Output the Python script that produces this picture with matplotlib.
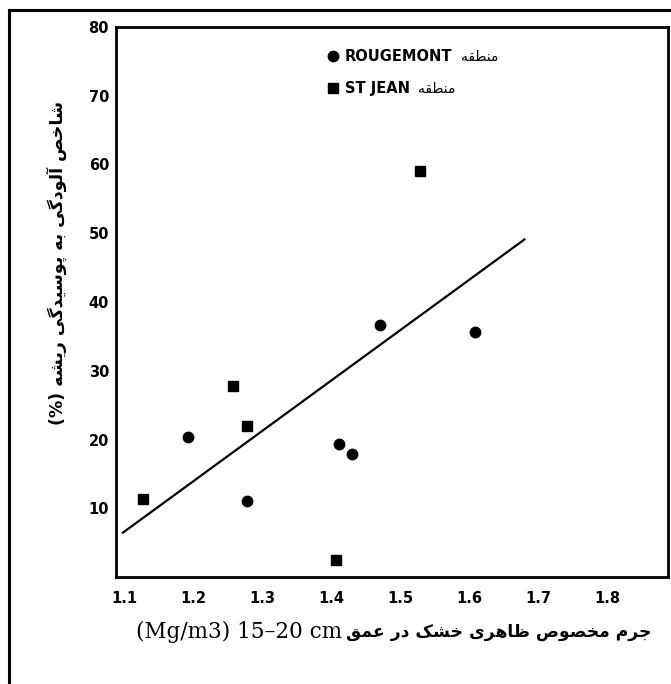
import matplotlib
matplotlib.use('Agg')
import matplotlib.pyplot as plt
from matplotlib.lines import Line2D

# data
rouge_x = [1.193, 1.278, 1.411, 1.430, 1.471, 1.609]
rouge_y = [20.4, 11.0, 19.3, 17.9, 36.7, 35.7]
jean_x = [1.127, 1.257, 1.278, 1.407, 1.529]
jean_y = [11.3, 27.8, 22.0, 2.5, 59.1]
fit_x = [1.098, 1.680]
fit_y = [6.45, 49.1]
xticks = [1.1, 1.2, 1.3, 1.4, 1.5, 1.6, 1.7, 1.8]
yticks = [10, 20, 30, 40, 50, 60, 70, 80]
series_names = ['ROUGEMONT', 'ST JEAN']
region_word = 'منطقه'
ylabel_fa = 'شاخص آلودگی به پوسیدگی ریشه (%)'
xlabel_fa = 'جرم مخصوص ظاهری خشک در عمق'
xlabel_en = '(Mg/m3) 15\u201320 cm'

# matplotlib has no arabic shaping, so pick presentation forms by hand
# (isolated, final, initial, medial)
FORMS = {
    'ا': (0xFE8D, 0xFE8E, None, None),
    'آ': (0xFE81, 0xFE82, None, None),
    'ب': (0xFE8F, 0xFE90, 0xFE91, 0xFE92),
    'پ': (0xFB56, 0xFB57, 0xFB58, 0xFB59),
    'ج': (0xFE9D, 0xFE9E, 0xFE9F, 0xFEA0),
    'خ': (0xFEA5, 0xFEA6, 0xFEA7, 0xFEA8),
    'د': (0xFEA9, 0xFEAA, None, None),
    'ر': (0xFEAD, 0xFEAE, None, None),
    'س': (0xFEB1, 0xFEB2, 0xFEB3, 0xFEB4),
    'ش': (0xFEB5, 0xFEB6, 0xFEB7, 0xFEB8),
    'ص': (0xFEB9, 0xFEBA, 0xFEBB, 0xFEBC),
    'ط': (0xFEC1, 0xFEC2, 0xFEC3, 0xFEC4),
    'ظ': (0xFEC5, 0xFEC6, 0xFEC7, 0xFEC8),
    'ع': (0xFEC9, 0xFECA, 0xFECB, 0xFECC),
    'ق': (0xFED5, 0xFED6, 0xFED7, 0xFED8),
    'ک': (0xFB8E, 0xFB8F, 0xFB90, 0xFB91),
    'گ': (0xFB92, 0xFB93, 0xFB94, 0xFB95),
    'ل': (0xFEDD, 0xFEDE, 0xFEDF, 0xFEE0),
    'م': (0xFEE1, 0xFEE2, 0xFEE3, 0xFEE4),
    'ن': (0xFEE5, 0xFEE6, 0xFEE7, 0xFEE8),
    'ه': (0xFEE9, 0xFEEA, 0xFEEB, 0xFEEC),
    'و': (0xFEED, 0xFEEE, None, None),
    'ی': (0xFBFC, 0xFBFD, 0xFBFE, 0xFBFF),
}


def shape_fa(s):
    out = []
    for i, c in enumerate(s):
        if c not in FORMS:
            out.append(c)
            continue
        prev = s[i - 1] if i > 0 else ''
        nxt = s[i + 1] if i + 1 < len(s) else ''
        jp = prev in FORMS and FORMS[prev][2] is not None
        jn = FORMS[c][2] is not None and nxt in FORMS
        f = FORMS[c]
        if jp and jn:
            code = f[3]
        elif jp:
            code = f[1]
        elif jn:
            code = f[2]
        else:
            code = f[0]
        out.append(chr(code))
    vis = ''.join(reversed(out))
    return vis.translate(str.maketrans('()', ')('))


fig = plt.figure(figsize=(6.71, 6.84), dpi=100)
ax = fig.add_axes([116 / 671, 107 / 684, 552 / 671, 550 / 684])

ax.plot(fit_x, fit_y, color='black', lw=1.6)
ax.plot(rouge_x, rouge_y, 'o', color='black', ms=7.5, label=series_names[0])
ax.plot(jean_x, jean_y, 's', color='black', ms=7, label=series_names[1])

ax.set_xlim(1.088, 1.888)
ax.set_ylim(0, 80)
ax.set_xticks(xticks)
ax.set_xticklabels([('%.1f' % v) for v in xticks])
ax.set_yticks(yticks)
ax.tick_params(length=0, labelsize=10.5)
ax.tick_params(axis='x', pad=10)
ax.tick_params(axis='y', pad=5)
for lab in ax.get_xticklabels() + ax.get_yticklabels():
    lab.set_fontweight('bold')
for sp in ax.spines.values():
    sp.set_linewidth(2)

leg = ax.legend(loc='upper left', bbox_to_anchor=(0.375, 0.97), frameon=False,
                prop={'weight': 'bold', 'size': 10.5}, handlelength=0.6,
                handletextpad=0.5, labelspacing=1.15, borderaxespad=0)
for t in leg.get_texts():
    ax.annotate(shape_fa(region_word), xy=(1, 0), xycoords=t, xytext=(6, 0),
                textcoords='offset points', va='bottom', ha='left',
                fontsize=10, zorder=8)

fig.text(57 / 671, 1 - 263 / 684, shape_fa(ylabel_fa), rotation=90,
         ha='center', va='center', fontsize=12.5, fontweight='bold')

en = fig.text(136 / 671, 1 - 632 / 684, xlabel_en, ha='left', va='center',
              family='DejaVu Serif', fontsize=15.5)
fig.add_artist(plt.Annotation(shape_fa(xlabel_fa), xy=(1, 0.5), xycoords=en,
                              xytext=(3, 0), textcoords='offset points',
                              va='center', ha='left', fontsize=12.3,
                              fontweight='bold'))

# outer frame, open at the right and bottom edges
fig.add_artist(Line2D([9 / 671, 9 / 671], [-0.02, 1 - 10 / 684],
                      color='black', lw=2.2, transform=fig.transFigure))
fig.add_artist(Line2D([9 / 671, 1.02], [1 - 10 / 684, 1 - 10 / 684],
                      color='black', lw=2.2, transform=fig.transFigure))

fig.savefig('out.png', dpi=100)
